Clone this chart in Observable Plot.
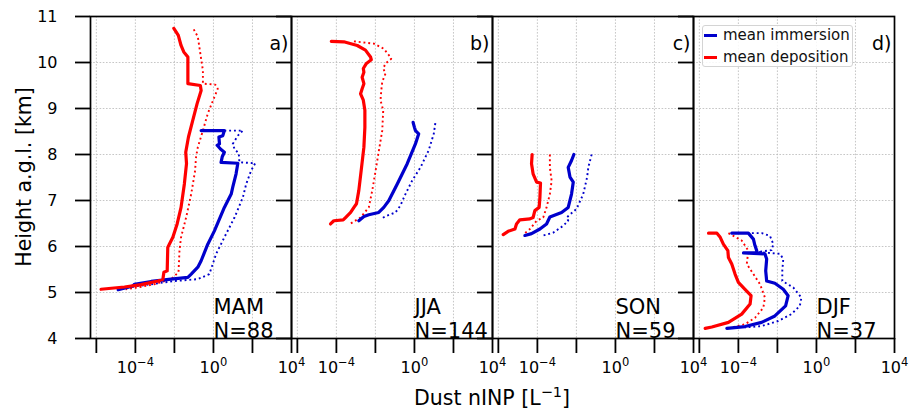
<!DOCTYPE html>
<html>
<head>
<meta charset="utf-8">
<script src="https://cdn.jsdelivr.net/npm/d3@7"></script>
<script src="https://cdn.jsdelivr.net/npm/@observablehq/plot@0.6"></script>
<style>
  body { margin: 0; background: #fff; font-family: "DejaVu Sans", sans-serif; }
  #wrap { position: relative; width: 914px; height: 414px; }
  .legend { position: absolute; left: 702px; top: 25px; width: 151px; height: 42px;
            border: 1px solid #d4d4d4; border-radius: 3px; background: rgba(255,255,255,0.85);
            font-family: "DejaVu Sans", sans-serif; font-size: 15px; color: #111; box-sizing: border-box; }
  .legend .row { position: absolute; left: 0; height: 18px; line-height: 18px; white-space: nowrap; }
  .legend .sw { position: absolute; left: 1px; top: 7.5px; width: 13px; height: 3px; }
  .legend .lb { position: absolute; left: 20px; top: 0; }
</style>
</head>
<body>
<div id="wrap"></div>
<script>
// ---------------- data (height km, log10 of nINP in L^-1), listed top to bottom ----------------
const seasons = ["MAM", "JJA", "SON", "DJF"];
const sampleCounts = [88, 144, 59, 37];
const panelLetters = ["a)", "b)", "c)", "d)"];

const mamDepMean = [[10.74,-2.03],[10.59,-1.8],[10.37,-1.66],[10.23,-1.52],[10.12,-1.31],[9.54,-1.31],[9.50,-0.67],[9.39,-0.63],[9.10,-0.84],[8.74,-1.06],[8.38,-1.28],[8.05,-1.42],[7.80,-1.38],[7.36,-1.49],[6.85,-1.66],[6.49,-1.86],[6.20,-2.08],[6.05,-2.26],[5.98,-2.34],[5.47,-2.37],[5.44,-2.54],[5.29,-2.59],[5.25,-2.85],[5.17,-3.71],[5.12,-4.56],[5.07,-5.76]];
const mamDepUpper = [[10.72,-1.01],[10.56,-0.8],[10.19,-0.67],[9.83,-0.54],[9.54,-0.54],[9.52,0.09],[9.43,0.22],[9.25,0.05],[8.89,-0.29],[8.52,-0.54],[8.16,-0.8],[7.95,-0.89],[7.65,-0.94],[7.14,-1.14],[6.63,-1.4],[6.2,-1.66],[5.91,-1.74],[5.44,-1.79],[5.29,-2.17],[5.18,-3.03],[5.11,-3.88],[5.07,-4.5]];
const mamImmMean = [[8.52,-0.63],[8.52,0.56],[8.41,0.48],[8.38,0.28],[8.23,0.31],[8.2,0.19],[8.12,0.36],[8.05,0.56],[7.95,0.45],[7.83,0.39],[7.81,1.25],[7.58,1.16],[7.29,0.99],[7.14,0.91],[6.85,0.56],[6.34,0.05],[6.05,-0.29],[5.69,-0.63],[5.55,-0.8],[5.4,-1.14],[5.33,-1.31],[5.29,-2.17],[5.24,-3.19],[5.18,-4.05],[5.14,-4.13],[5.06,-4.88]];
const mamImmUpper = [[8.52,0.56],[8.52,1.51],[8.41,1.25],[8.23,0.99],[8.12,1.08],[8.02,1.3],[7.83,1.33],[7.81,2.14],[7.65,1.93],[7.36,1.68],[7.07,1.51],[6.63,1.08],[6.2,0.56],[5.84,0.14],[5.4,-0.21],[5.29,-0.8],[5.25,-2.0],[5.18,-3.19],[5.11,-4.39],[5.07,-4.8]];

const jjaDepMean = [[10.46,-4.26],[10.45,-3.62],[10.37,-2.93],[10.27,-2.51],[10.12,-2.25],[10.06,-2.21],[9.98,-2.46],[9.87,-2.62],[9.79,-2.59],[9.68,-2.68],[9.54,-2.59],[9.43,-2.68],[9.32,-2.76],[9.18,-2.62],[8.96,-2.54],[8.59,-2.54],[8.16,-2.59],[7.65,-2.73],[7.22,-2.85],[6.93,-2.97],[6.85,-3.1],[6.74,-3.27],[6.63,-3.53],[6.58,-3.65],[6.56,-4.13],[6.49,-4.3]];
const jjaDepUpper = [[10.46,-3.1],[10.41,-2.08],[10.3,-1.57],[10.16,-1.31],[10.08,-1.19],[9.98,-1.48],[9.87,-1.6],[9.76,-1.48],[9.58,-1.65],[9.39,-1.7],[9.18,-1.74],[8.96,-1.6],[8.52,-1.65],[8.09,-1.82],[7.65,-1.99],[7.22,-2.16],[6.85,-2.34],[6.63,-2.76],[6.5,-3.27]];
const jjaImmMean = [[8.7,-0.07],[8.59,0],[8.52,0.05],[8.45,0.22],[8.23,0.05],[7.8,-0.37],[7.36,-0.88],[7.0,-1.31],[6.85,-1.57],[6.74,-1.83],[6.69,-2.34],[6.65,-2.59],[6.56,-2.85]];
const jjaImmUpper = [[8.68,1.07],[8.45,0.99],[8.09,0.73],[7.72,0.31],[7.43,-0.12],[7.14,-0.46],[6.89,-0.72],[6.74,-0.97],[6.67,-1.4],[6.6,-1.74]];

const sonDepMean = [[8.0,-4.27],[7.8,-4.3],[7.58,-4.22],[7.4,-4.04],[7.38,-3.84],[7.07,-3.87],[6.85,-3.91],[6.78,-4.13],[6.63,-4.22],[6.6,-4.38],[6.58,-4.9],[6.49,-5.07],[6.38,-5.15],[6.33,-5.5],[6.26,-5.75]];
const sonDepUpper = [[8.0,-3.36],[7.72,-3.36],[7.43,-3.27],[7.14,-3.36],[6.85,-3.53],[6.63,-3.7],[6.56,-4.04],[6.38,-4.38],[6.26,-4.73]];
const sonImmMean = [[8.0,-2.13],[7.87,-2.25],[7.72,-2.42],[7.51,-2.33],[7.4,-2.16],[7.14,-2.25],[6.85,-2.42],[6.74,-2.76],[6.64,-3.36],[6.49,-3.53],[6.38,-3.87],[6.28,-4.3],[6.24,-4.64]];
const sonImmUpper = [[8.0,-1.22],[7.72,-1.39],[7.51,-1.45],[7.14,-1.65],[6.82,-1.99],[6.63,-2.5],[6.56,-2.42],[6.45,-2.68],[6.3,-3.19],[6.24,-3.7]];

const djfDepMean = [[6.29,-5.53],[6.29,-5.1],[6.2,-4.93],[6.05,-4.77],[5.91,-4.54],[5.76,-4.51],[5.62,-4.34],[5.4,-4.17],[5.22,-4.0],[5.07,-3.66],[4.93,-3.35],[4.75,-3.4],[4.53,-3.83],[4.35,-4.51],[4.25,-5.36],[4.22,-5.7]];
const djfDepUpper = [[6.29,-4.51],[6.13,-3.83],[5.91,-3.49],[5.62,-3.57],[5.4,-3.23],[5.18,-2.89],[4.89,-2.64],[4.67,-2.72],[4.45,-3.15],[4.31,-3.66],[4.24,-4.34]];
const djfImmMean = [[6.29,-4.34],[6.29,-3.49],[6.16,-3.23],[6.02,-3.15],[5.91,-3.06],[5.87,-3.06],[5.86,-3.74],[5.84,-2.64],[5.73,-2.55],[5.47,-2.6],[5.25,-2.55],[5.2,-2.13],[5.07,-1.7],[4.93,-1.45],[4.71,-1.58],[4.49,-2.13],[4.35,-2.81],[4.26,-3.66],[4.22,-4.59]];
const djfImmUpper = [[6.29,-3.8],[6.29,-2.8],[6.23,-2.38],[6.05,-2.21],[5.92,-2.3],[5.88,-3.0],[5.84,-1.87],[5.73,-1.7],[5.47,-1.75],[5.25,-1.75],[5.11,-1.19],[4.89,-0.77],[4.71,-0.85],[4.53,-1.28],[4.38,-1.96],[4.27,-2.81],[4.24,-3.66]];

const xTicks = [1e-6, 1e-4, 1e-2, 1, 1e2, 1e4];
const xTickLabels = ["", "10^\u22124", "", "10^0", "", "10^4"];
const yTicks = [4, 5, 6, 7, 8, 9, 10, 11];
const legendLabels = ["mean immersion", "mean deposition"];

// ---------------- build table ----------------
const seriesTable = [
  ["MAM","immersion","upper",mamImmUpper],["MAM","immersion","mean",mamImmMean],["MAM","deposition","upper",mamDepUpper],["MAM","deposition","mean",mamDepMean],
  ["JJA","immersion","upper",jjaImmUpper],["JJA","immersion","mean",jjaImmMean],["JJA","deposition","upper",jjaDepUpper],["JJA","deposition","mean",jjaDepMean],
  ["SON","immersion","upper",sonImmUpper],["SON","immersion","mean",sonImmMean],["SON","deposition","upper",sonDepUpper],["SON","deposition","mean",sonDepMean],
  ["DJF","immersion","upper",djfImmUpper],["DJF","immersion","mean",djfImmMean],["DJF","deposition","upper",djfDepUpper],["DJF","deposition","mean",djfDepMean]
];
const rows = [];
for (const [season, proc, stat, pts] of seriesTable) {
  for (const [h, e] of pts) rows.push({season, proc, stat, key: season + proc + stat, height: h, value: Math.pow(10, e)});
}
const annot = seasons.map((s, i) => ({season: s, letter: panelLetters[i], label: s + "\nN=" + sampleCounts[i]}));

const BLUE = "#0000cc", RED = "#ff0000";
const lineMark = (proc, stat, color) => Plot.line(rows, {
  filter: d => d.proc === proc && d.stat === stat,
  fx: "season", x: "value", y: "height", z: "key", stroke: color,
  strokeWidth: stat === "mean" ? 3.2 : 1.9,
  strokeDasharray: stat === "mean" ? null : "1.9,2.9",
  strokeLinecap: stat === "mean" ? "round" : "butt",
  strokeLinejoin: "round"
});

const chart = Plot.plot({
  width: 914, height: 414,
  marginLeft: 89, marginRight: 19, marginTop: 16, marginBottom: 76,
  style: {fontFamily: "DejaVu Sans", fontSize: "16px", color: "black", background: "white"},
  fx: {domain: seasons, padding: 0, axis: null, label: null},
  x: {type: "log", domain: [Math.pow(10, -6.3), 1e4], label: null},
  y: {domain: [4, 11], label: null},
  marks: [
    Plot.gridX(xTicks, {stroke: "#b8b8b8", strokeOpacity: 1, strokeWidth: 0.8, strokeDasharray: "1.6,1.6"}),
    Plot.gridY(yTicks, {stroke: "#b8b8b8", strokeOpacity: 1, strokeWidth: 0.8, strokeDasharray: "1.6,1.6"}),
    lineMark("immersion", "upper", BLUE),
    lineMark("deposition", "upper", RED),
    lineMark("immersion", "mean", BLUE),
    lineMark("deposition", "mean", RED),
    Plot.frame({stroke: "black", strokeWidth: 1.7}),
    Plot.axisX(xTicks, {tickSize: 15, tickPadding: 8, strokeWidth: 1.8, fontSize: 16,
      tickFormat: d => xTickLabels[xTicks.indexOf(d)], label: null}),
    Plot.axisY(yTicks, {tickSize: 15, strokeWidth: 1.8, tickFormat: () => "", label: null, facetAnchor: null}),
    Plot.axisY(yTicks, {tickSize: 0, tickPadding: 33, fontSize: 16, label: null}),
    Plot.text(annot, {fx: "season", frameAnchor: "top-right", text: "letter", textAnchor: "end",
      lineAnchor: "middle", dx: -3, dy: 27, fontSize: 19}),
    Plot.text(annot, {fx: "season", frameAnchor: "bottom-right", text: "label", textAnchor: "start",
      lineAnchor: "bottom", dx: -78, dy: -1, fontSize: 21, lineHeight: 1.1})
  ]
});

const wrap = document.getElementById("wrap");
wrap.appendChild(chart);

const svg = d3.select(chart);
// typeset "10^e" tick labels with a real superscript
svg.selectAll("text").each(function() {
  const el = d3.select(this);
  if (this.querySelector("tspan")) return;
  const t = el.text();
  if (!/^10\^/.test(t)) return;
  const exp = t.slice(3);
  el.text("");
  el.append("tspan").text("10");
  el.append("tspan").attr("dy", "-7").attr("font-size", "11.5px").text(exp);
});

svg.append("text")
  .attr("transform", "translate(31,177) rotate(-90)")
  .attr("text-anchor", "middle")
  .attr("font-family", "DejaVu Sans").attr("font-size", 20.5).attr("fill", "black")
  .text("Height a.g.l. [km]");
const xl = svg.append("text")
  .attr("x", 492).attr("y", 405)
  .attr("text-anchor", "middle")
  .attr("font-family", "DejaVu Sans").attr("font-size", 20.5).attr("fill", "black");
xl.append("tspan").text("Dust nINP [L");
xl.append("tspan").attr("dy", "-8").attr("font-size", "14.5px").text("\u22121");
xl.append("tspan").attr("dy", "8").text("]");

// legend (inside panel d)
const legend = d3.select(wrap).append("div").attr("class", "legend");
[[legendLabels[0], BLUE, 0], [legendLabels[1], RED, 22]].forEach(([t, c, top]) => {
  const row = legend.append("div").attr("class", "row").style("top", top + "px");
  row.append("div").attr("class", "sw").style("background", c);
  row.append("span").attr("class", "lb").text(t);
});
</script>
</body>
</html>
